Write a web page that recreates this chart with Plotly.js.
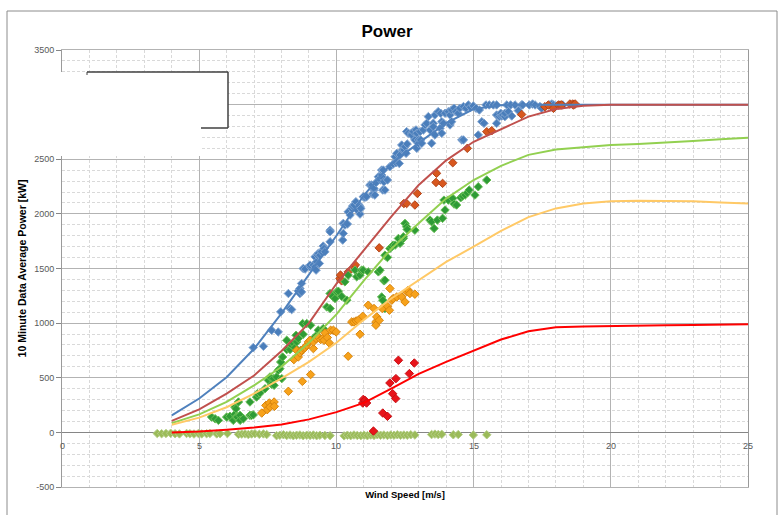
<!DOCTYPE html>
<html>
<head>
<meta charset="utf-8">
<script src="https://cdn.plot.ly/plotly-3.0.1.min.js"></script>
<style>html,body{margin:0;padding:0;background:#fff;}#chart{width:782px;height:515px;}</style>
</head>
<body>
<div id="chart"></div>
<script>
// ---- Data ----
const curveX = [4,5,6,7,8,9,10,11,12,13,14,15,16,17,18,19,20,21,22,23,24,25];
const curveBlue   = [155,310,505,765,1090,1440,1800,2170,2460,2650,2830,2960,2995,3000,3000,3000,3000,3000,3000,3000,3000,3000];
const curveBrown  = [105,210,355,520,745,1000,1360,1670,1975,2265,2490,2660,2775,2890,2960,2990,3000,3000,3000,3000,3000,3000];
const curveGreen  = [85,165,280,430,600,820,1080,1390,1680,1915,2140,2310,2440,2540,2590,2612,2630,2640,2652,2668,2683,2697];
const curveOrange = [70,135,230,355,495,645,820,1030,1225,1395,1560,1700,1845,1970,2050,2095,2115,2120,2120,2115,2105,2095];
const curveRed    = [0,8,25,45,73,119,185,270,400,535,645,750,850,925,962,968,970,975,980,983,986,990];

const blueX = [6.97,7.34,7.64,7.88,7.97,8.25,8.31,8.37,8.61,8.67,8.73,8.67,8.73,8.79,8.86,9.04,9.04,9.16,9.22,9.26,9.22,9.28,9.31,9.34,9.38,9.40,9.46,9.52,9.55,9.58,9.77,9.77,9.77,10.23,10.25,10.25,10.31,10.40,10.43,10.50,10.56,10.59,10.64,10.71,10.76,10.83,10.86,10.86,10.89,10.98,11.04,11.10,11.22,11.29,11.32,11.37,11.37,11.40,11.44,11.53,11.59,11.61,11.65,11.65,11.69,11.71,11.71,11.73,11.77,11.86,11.95,12.07,12.14,12.17,12.20,12.29,12.32,12.38,12.41,12.46,12.50,12.54,12.58,12.56,12.62,12.74,12.74,12.80,12.86,12.90,12.93,12.93,12.99,12.99,13.05,13.07,13.11,13.17,13.23,13.29,13.35,13.41,13.47,13.53,13.53,13.59,13.59,13.71,13.78,13.80,13.84,13.84,13.90,13.96,14.08,14.14,14.14,14.20,14.20,14.29,14.36,14.44,14.50,14.57,14.63,14.63,14.72,14.81,14.89,14.99,15.09,15.17,15.21,15.30,15.38,15.45,15.57,15.72,15.84,15.84,15.84,15.94,15.99,16.02,16.06,16.14,16.14,16.21,16.27,16.35,16.39,16.51,16.63,16.75,16.79,17.03,17.15,17.24,17.42,17.48,17.78,17.85,17.91,18.00,18.25];
const blueY = [776,788,935,919,1103,1271,1134,1124,1295,1317,1363,1271,1286,1500,1495,1515,1531,1531,1515,1485,1607,1561,1622,1638,1546,1622,1653,1705,1683,1653,1851,1744,1836,1760,1821,1913,1897,1907,2019,1989,2050,2071,2081,2111,2035,2081,2065,1998,2050,2157,2151,2157,2264,2264,2181,2218,2233,2172,2285,2340,2325,2310,2356,2401,2218,2325,2401,2294,2218,2310,2432,2456,2523,2468,2554,2462,2539,2630,2585,2585,2615,2554,2640,2753,2738,2738,2722,2753,2677,2768,2738,2600,2677,2646,2753,2677,2646,2768,2814,2829,2890,2768,2646,2829,2798,2905,2722,2936,2783,2921,2738,2844,2829,2921,2936,2905,2814,2951,2844,2967,2936,2921,2967,2677,2982,2677,2967,2997,2976,2988,2967,2722,2951,2844,2829,2997,2997,2997,2997,2905,2829,2890,2921,2896,2905,2890,2921,2997,2936,2997,2896,2997,2945,2997,2997,2997,3006,2997,2982,2967,2997,3006,2997,2988,2997];

const brownX = [10.13,10.19,10.15,10.43,10.64,10.69,11.56,12.46,12.56,12.86,12.95,13.63,13.65,13.87,14.24,14.77,15.48,15.66,16.75,17.60,17.72,17.91,18.09,18.15,18.21,18.51,18.61,18.64,18.70];
const brownY = [1408,1387,1440,1469,1515,1533,1689,2095,2095,2081,2187,2288,2371,2279,2468,2600,2752,2761,2910,2981,2996,2966,2996,2996,2996,3006,3006,2996,3006];

const greenX = [5.45,5.58,5.70,6.00,6.12,6.24,6.30,6.30,6.34,6.34,6.39,6.43,6.49,6.49,6.61,6.85,6.91,6.85,6.97,7.09,7.12,7.22,7.40,7.52,7.58,7.64,7.70,7.73,7.82,7.88,7.94,7.97,8.01,8.04,8.19,8.19,8.31,8.37,8.43,8.49,8.53,8.55,8.61,8.70,8.77,8.79,8.92,9.06,9.16,9.28,9.34,9.52,9.65,9.77,9.77,9.86,9.95,10.01,10.07,10.19,10.31,10.38,10.43,10.68,10.74,10.86,10.92,10.98,11.16,11.53,11.59,11.65,11.69,11.73,11.77,11.77,11.77,11.83,11.86,11.95,12.01,12.07,12.14,12.26,12.32,12.44,12.44,12.50,12.56,12.58,12.86,13.41,13.47,13.56,13.68,13.87,13.92,13.96,14.08,14.24,14.29,14.38,14.53,14.60,14.69,14.77,14.84,15.05,15.17,15.48];
const greenY = [140,125,110,140,147,110,165,232,140,217,140,278,156,110,125,156,156,278,160,323,354,360,400,476,507,440,492,431,507,568,583,644,492,690,843,758,758,797,813,776,889,828,859,751,996,898,996,980,859,889,935,950,1148,1271,1134,1246,1225,1286,1292,1246,1378,1210,1439,1485,1424,1439,1485,1485,1469,1469,1485,1240,1210,1387,1134,1393,1622,1607,1601,1683,1699,1714,1714,1775,1730,1775,1790,1913,1882,1857,1851,1943,1928,1867,1943,1959,2126,2035,2126,2142,2090,2081,2148,2163,2172,2193,2218,2172,2248,2310];

const orangeX = [7.28,7.43,7.48,7.56,7.58,7.73,7.74,8.25,8.45,8.55,8.61,8.67,8.73,8.76,8.82,8.86,8.92,8.98,9.04,9.06,9.16,9.16,9.26,9.34,9.43,9.50,9.55,9.58,9.67,9.74,9.79,9.89,9.99,10.43,10.56,10.64,10.72,10.80,10.86,10.96,11.16,11.37,11.44,11.44,11.47,11.56,11.67,11.86,11.93,11.95,12.02,12.07,12.20,12.38,12.50,12.56,12.62,12.68,12.86];
const orangeY = [177,247,208,269,232,278,238,376,666,751,690,727,751,467,767,776,797,828,843,529,767,828,859,874,850,859,843,910,868,819,935,935,919,697,1011,1011,1020,1026,898,1063,1164,1134,1011,981,1057,1026,1134,1155,1118,1317,1210,1225,1240,1240,1194,1286,1301,1271,1265];

const redX = [10.96,10.98,11.04,11.10,11.35,11.69,11.86,11.95,12.05,12.16,12.17,12.26,12.66,12.84];
const redY = [269,302,293,269,12,177,147,452,354,309,492,660,538,635];

const oliveX = [3.47,3.63,3.79,3.96,4.12,4.28,4.54,4.66,4.81,4.97,5.09,5.27,5.39,5.64,5.76,6.03,6.43,6.55,6.67,6.79,6.91,7.03,7.19,7.34,7.46,7.82,7.94,8.07,8.19,8.31,8.43,8.55,8.67,8.79,8.92,9.04,9.16,9.28,9.40,9.58,9.77,10.28,10.40,10.52,10.64,10.76,10.89,11.01,11.13,11.25,11.37,11.49,11.61,11.73,11.86,11.98,12.10,12.22,12.34,12.46,12.58,12.71,12.86,13.47,13.59,13.71,13.84,14.26,14.44,14.99,15.48];
const oliveY = [-10,-12,-10,-8,-12,-14,-10,-12,-15,-10,-14,-12,-10,-14,-12,-10,-18,-16,-14,-20,-15,-12,-18,-14,-20,-30,-26,-22,-28,-24,-30,-26,-24,-30,-26,-28,-24,-30,-26,-28,-30,-32,-26,-30,-24,-28,-30,-26,-30,-24,-28,-22,-26,-24,-28,-24,-26,-22,-26,-24,-26,-22,-24,-20,-16,-20,-18,-22,-20,-24,-22];

const xTickVals = [0,5,10,15,20,25];
const xTickText = ['0','5','10','15','20','25'];
const yTickVals = [-500,0,500,1000,1500,2000,2500,3000,3500];
const yTickText = ['-500','0','500','1000','1500','2000','2500','','3500'];

// ---- Layout helpers (pixel -> paper) ----
const L = 62, R = 748, T = 50, B = 487;
const px = v => (v - L) / (R - L);
const py = v => (B - v) / (B - T);

function sc(x, y, fill, border) {
  return {x: x, y: y, type: 'scatter', mode: 'markers', hoverinfo: 'skip',
    marker: {symbol: 'diamond', size: 6.5, color: fill, line: {color: border, width: 1}}};
}
function ln(y, color) {
  return {x: curveX, y: y, type: 'scatter', mode: 'lines', hoverinfo: 'skip',
    line: {color: color, width: 2}};
}

const traces = [
  sc(oliveX, oliveY, '#9BBB59', '#B5CF87'),
  sc(blueX, blueY, '#4A7EBB', '#7FA3D0'),
  sc(brownX, brownY, '#D8571E', '#B2451A'),
  sc(greenX, greenY, '#2E9B36', '#68BF55'),
  sc(orangeX, orangeY, '#F7A21B', '#D9860E'),
  sc(redX, redY, '#E8141B', '#C81015'),
  ln(curveBlue, '#4F81BD'),
  ln(curveBrown, '#C0504D'),
  ln(curveGreen, '#92D050'),
  ln(curveOrange, '#FFC966'),
  ln(curveRed, '#FF0000')
];

const fontFam = '"Liberation Sans", Arial, sans-serif';

const annotations = xTickVals.map((v, i) => ({
  x: v, y: 0, xref: 'x', yref: 'y', text: xTickText[i], showarrow: false,
  yanchor: 'top', xanchor: 'center', yshift: -7,
  font: {family: fontFam, size: 9, color: '#595959'}
}));

const shapes = [
  {type: 'rect', xref: 'paper', yref: 'paper', x0: px(7), x1: px(777), y0: py(530), y1: py(11),
   line: {color: '#8c8c8c', width: 1}, fillcolor: 'rgba(0,0,0,0)', layer: 'above'},
  {type: 'rect', xref: 'paper', yref: 'paper', x0: px(9), x1: px(201), y0: py(156), y1: py(72),
   line: {width: 0}, fillcolor: '#ffffff', layer: 'above'},
  {type: 'rect', xref: 'paper', yref: 'paper', x0: px(200), x1: px(228), y0: py(128), y1: py(72),
   line: {width: 0}, fillcolor: '#ffffff', layer: 'above'},
  {type: 'line', xref: 'paper', yref: 'paper', x0: px(87), x1: px(228), y0: py(72), y1: py(72),
   line: {color: '#404040', width: 1.5}, layer: 'above'},
  {type: 'line', xref: 'paper', yref: 'paper', x0: px(228), x1: px(228), y0: py(72), y1: py(128),
   line: {color: '#404040', width: 1.5}, layer: 'above'},
  {type: 'line', xref: 'paper', yref: 'paper', x0: px(201), x1: px(228), y0: py(128), y1: py(128),
   line: {color: '#404040', width: 1.5}, layer: 'above'},
  {type: 'line', xref: 'paper', yref: 'paper', x0: px(87), x1: px(87), y0: py(72), y1: py(75),
   line: {color: '#404040', width: 1}, layer: 'above'}
];

const layout = {
  width: 782, height: 515,
  margin: {l: L, r: 782 - R, t: T, b: 515 - B, pad: 0},
  paper_bgcolor: '#ffffff', plot_bgcolor: '#ffffff',
  showlegend: false,
  font: {family: fontFam, color: '#595959', size: 9},
  title: {text: '<b>Power</b>', x: 370.5 / 782, xanchor: 'center', xref: 'paper',
          y: 1 - 31 / 515, yanchor: 'middle', yref: 'container',
          font: {family: fontFam, size: 17, color: '#000000'}},
  xaxis: {
    range: [0, 25], tickvals: xTickVals, showticklabels: false, ticks: '',
    showgrid: true, gridcolor: '#b3b3b3', gridwidth: 1,
    minor: {dtick: 1, showgrid: true, gridcolor: '#d9d9d9', griddash: '3px,2px', gridwidth: 1},
    zeroline: false, showline: true, mirror: true, linecolor: '#b3b3b3', linewidth: 1,
    fixedrange: true,
    title: {text: '<b>Wind Speed [m/s]</b>', standoff: 4,
            font: {family: fontFam, size: 9.5, color: '#000000'}}
  },
  yaxis: {
    range: [-500, 3500], tickvals: yTickVals, ticktext: yTickText,
    ticks: 'outside', ticklen: 5, tickcolor: '#868686', tickwidth: 1,
    tickfont: {family: fontFam, size: 9, color: '#595959'},
    showgrid: true, gridcolor: '#b3b3b3', gridwidth: 1,
    minor: {dtick: 100, showgrid: true, gridcolor: '#d9d9d9', griddash: '3px,2px', gridwidth: 1},
    zeroline: true, zerolinecolor: '#868686', zerolinewidth: 1,
    showline: true, mirror: true, linecolor: '#9a9a9a', linewidth: 1,
    fixedrange: true,
    title: {text: '<b>10 Minute Data Average Power [kW]</b>', standoff: 5,
            font: {family: fontFam, size: 10.5, color: '#000000'}}
  },
  annotations: annotations,
  shapes: shapes
};

Plotly.newPlot('chart', traces, layout, {displayModeBar: false, staticPlot: true});
</script>
</body>
</html>
